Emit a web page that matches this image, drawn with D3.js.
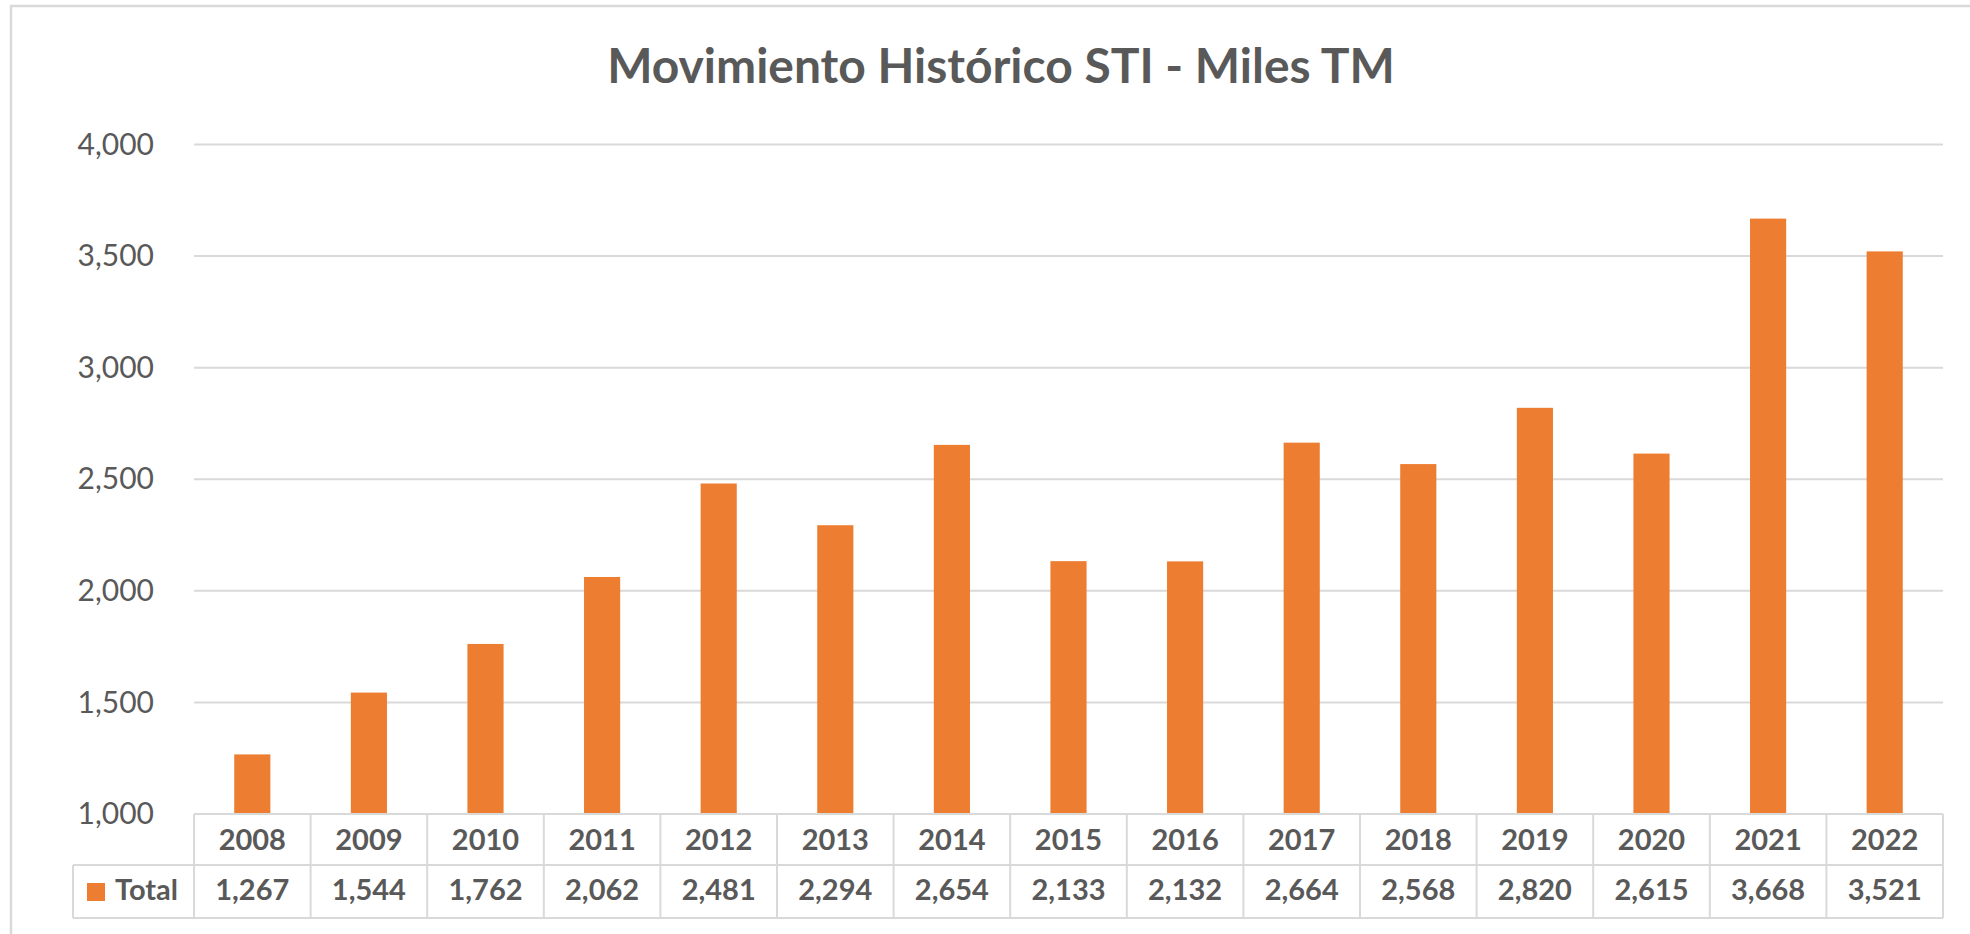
<!DOCTYPE html>
<html>
<head>
<meta charset="utf-8">
<script src="https://cdn.jsdelivr.net/npm/d3@7"></script>
<style>
  html, body { margin: 0; padding: 0; background: #ffffff; }
  svg { display: block; }
  text { font-family: Lato, "Open Sans", sans-serif; }
</style>
</head>
<body>
<svg id="chart" width="1970" height="934"></svg>
<script>
const chartTitle = "Movimiento Histórico STI - Miles TM";
const years = ["2008","2009","2010","2011","2012","2013","2014","2015","2016","2017","2018","2019","2020","2021","2022"];
const totals = [1267, 1544, 1762, 2062, 2481, 2294, 2654, 2133, 2132, 2664, 2568, 2820, 2615, 3668, 3521];
const seriesName = "Total";
const yTicks = [1000, 1500, 2000, 2500, 3000, 3500, 4000];

(function draw() {
  const svg = d3.select("#chart");
  const textColor = "#595959";
  const gridColor = "#d9d9d9";
  const barColor = "#ED7D31";

  const plotLeft = 194, plotRight = 1943, plotTop = 144.5, plotBottom = 814;
  const rowMid = 865, rowBottom = 918, legendLeft = 73;

  // outer chart border (only top and left visible in the frame)
  svg.append("rect")
    .attr("x", 11).attr("y", 6)
    .attr("width", 2100).attr("height", 1100)
    .attr("fill", "none").attr("stroke", gridColor).attr("stroke-width", 2.5);

  // title
  const title = svg.append("text")
    .attr("x", 1001).attr("y", 83)
    .attr("text-anchor", "middle")
    .attr("font-weight", 700)
    .attr("font-size", 44)
    .attr("fill", textColor)
    .text(chartTitle);
  const tw = title.node().getComputedTextLength();
  if (tw > 0) title.attr("font-size", 44 * 788 / tw);

  // scales
  const y = d3.scaleLinear().domain([1000, 4000]).range([plotBottom, plotTop]);
  const xCol = d3.scaleBand().domain(years).range([plotLeft, plotRight]).padding(0);
  const xBar = d3.scaleBand().domain(years).range([plotLeft, plotRight]).paddingInner(0.69).paddingOuter(0.345);

  // gridlines
  svg.append("g").selectAll("line")
    .data(yTicks.filter(d => d !== 1000))
    .join("line")
    .attr("x1", plotLeft).attr("x2", plotRight)
    .attr("y1", d => y(d)).attr("y2", d => y(d))
    .attr("stroke", gridColor).attr("stroke-width", 2);

  // y axis labels
  const yAxis = d3.axisLeft(y).tickValues(yTicks).tickFormat(d3.format(",")).tickSize(0).tickPadding(0);
  const yg = svg.append("g").attr("transform", "translate(154,0)").call(yAxis);
  yg.select(".domain").remove();
  yg.selectAll("text")
    .attr("font-size", 30)
    .attr("font-family", "Lato, 'Open Sans', sans-serif")
    .attr("fill", textColor)
    .attr("dy", "0.32em");

  // bars
  svg.append("g").selectAll("rect")
    .data(years.map((yr, i) => ({ yr, v: totals[i] })))
    .join("rect")
    .attr("x", d => xBar(d.yr))
    .attr("width", xBar.bandwidth())
    .attr("y", d => y(d.v))
    .attr("height", d => y(1000) - y(d.v))
    .attr("fill", barColor);

  // data table
  const tg = svg.append("g");
  const lineAttrs = sel => sel.attr("stroke", gridColor).attr("stroke-width", 2);
  tg.append("line").attr("x1", plotLeft).attr("x2", plotRight).attr("y1", plotBottom).attr("y2", plotBottom).call(lineAttrs);
  tg.append("line").attr("x1", legendLeft).attr("x2", plotRight).attr("y1", rowMid).attr("y2", rowMid).call(lineAttrs);
  tg.append("line").attr("x1", legendLeft).attr("x2", plotRight).attr("y1", rowBottom).attr("y2", rowBottom).call(lineAttrs);
  tg.append("line").attr("x1", legendLeft).attr("x2", legendLeft).attr("y1", rowMid).attr("y2", rowBottom).call(lineAttrs);
  tg.selectAll("line.v")
    .data(years.map(yr => xCol(yr)).concat([plotRight]))
    .join("line")
    .attr("class", "v")
    .attr("x1", d => d).attr("x2", d => d)
    .attr("y1", plotBottom).attr("y2", rowBottom)
    .call(lineAttrs);

  tg.selectAll("text.year")
    .data(years)
    .join("text")
    .attr("class", "year")
    .attr("x", d => xCol(d) + xCol.bandwidth() / 2)
    .attr("y", 850)
    .attr("text-anchor", "middle")
    .attr("font-weight", 700)
    .attr("font-size", 29)
    .attr("fill", textColor)
    .text(d => d);

  tg.selectAll("text.val")
    .data(years.map((yr, i) => ({ yr, v: totals[i] })))
    .join("text")
    .attr("class", "val")
    .attr("x", d => xCol(d.yr) + xCol.bandwidth() / 2)
    .attr("y", 900)
    .attr("text-anchor", "middle")
    .attr("font-weight", 700)
    .attr("font-size", 29)
    .attr("fill", textColor)
    .text(d => d3.format(",")(d.v));

  // legend key
  tg.append("rect")
    .attr("x", 87).attr("y", 883).attr("width", 18).attr("height", 18)
    .attr("fill", barColor);
  tg.append("text")
    .attr("x", 115).attr("y", 900)
    .attr("font-weight", 700)
    .attr("font-size", 29)
    .attr("fill", textColor)
    .text(seriesName);
})();
</script>
</body>
</html>
